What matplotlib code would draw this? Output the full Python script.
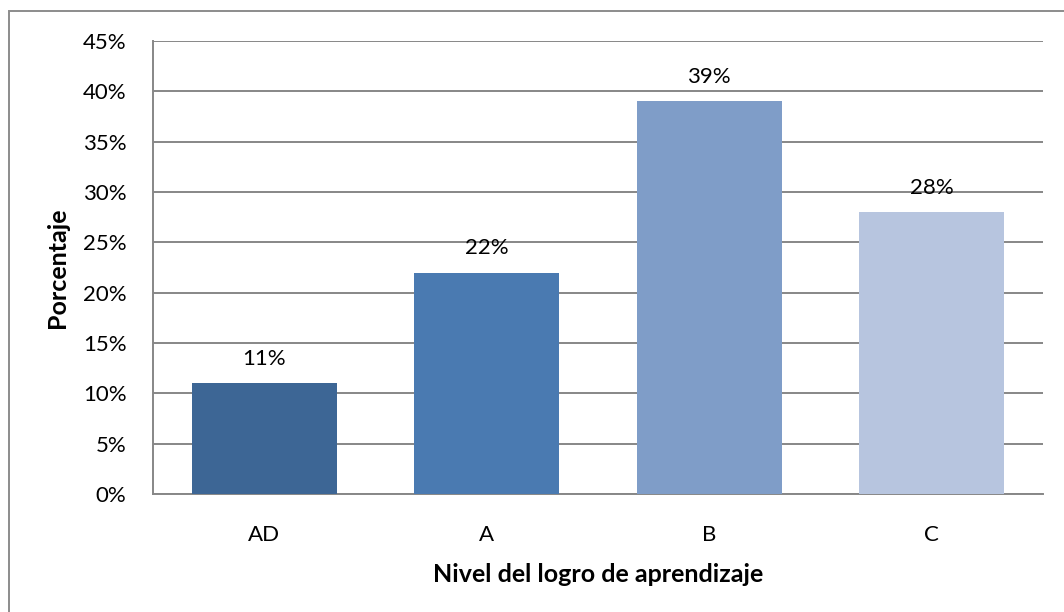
import matplotlib.pyplot as plt
from matplotlib.patches import Rectangle
from matplotlib.ticker import PercentFormatter

# Datos del gráfico
niveles = ["AD", "A", "B", "C"]
porcentajes = [11, 22, 39, 28]
colores = ["#3D6695", "#4A7AB1", "#7F9DC8", "#B7C5DF"]

plt.rcParams['font.family'] = ['Lato', 'DejaVu Sans']

fig = plt.figure(figsize=(10.64, 6.12), dpi=100)
ax = fig.add_axes([153 / 1064, 1 - 494 / 612, (1043 - 153) / 1064, (494 - 41) / 612])

# Marco exterior del gráfico
fig.patches.append(Rectangle((9 / 1064, -0.05), 1.2, 1 - 11 / 612 + 0.05,
                             transform=fig.transFigure, fill=False,
                             edgecolor="#8C8C8C", linewidth=1.4))

ax.bar(range(len(niveles)), porcentajes, width=0.65, color=colores, zorder=3)

for i, v in enumerate(porcentajes):
    ax.text(i, v + 1.4, f"{v}%", ha="center", va="bottom", fontsize=16)

ax.set_xlim(-0.5, 3.5)
ax.set_ylim(0, 45)
ax.set_yticks(range(0, 46, 5))
ax.yaxis.set_major_formatter(PercentFormatter(decimals=0))
ax.set_xticks(range(len(niveles)))
ax.set_xticklabels(niveles)
ax.tick_params(axis="y", length=0, labelsize=16, pad=19)
ax.tick_params(axis="x", length=0, labelsize=16, pad=22)

ax.grid(axis="y", color="#878787", linewidth=1.4, zorder=0)
for lado in ["top", "right"]:
    ax.spines[lado].set_visible(False)
ax.spines["left"].set_color("#878787")
ax.spines["bottom"].set_color("#878787")
ax.spines["left"].set_linewidth(1.4)
ax.spines["bottom"].set_linewidth(1.4)

ax.set_ylabel("Porcentaje", fontsize=18, fontweight="bold", labelpad=10)
ax.set_xlabel("Nivel del logro de aprendizaje", fontsize=18, fontweight="bold", labelpad=13)

fig.savefig("out.png", dpi=100)
